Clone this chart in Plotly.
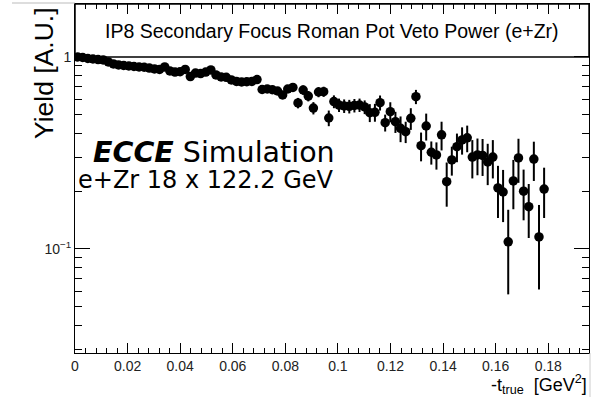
import plotly.graph_objects as go

# Histogram binning of -t (GeV^2): 100 bins over [0, 0.195]
bin_width = 0.00195

# Normalised yield per bin and its statistical uncertainty
yield_vals = [
    1.000, 0.994, 0.982, 0.976, 0.970, 0.965, 0.942, 0.920, 0.909, 0.903,
    0.898, 0.892, 0.887, 0.884, 0.876, 0.866, 0.861, 0.887, 0.846, 0.835,
    0.838, 0.861, 0.791, 0.825, 0.820, 0.835, 0.856, 0.806, 0.787, 0.784,
    0.759, 0.746, 0.741, 0.743, 0.746, 0.763, 0.677, 0.681, 0.675, 0.665,
    0.634, 0.681, 0.694, 0.576, 0.673, 0.626, 0.542, 0.657, 0.660, 0.481,
    0.586, 0.562, 0.556, 0.553, 0.559, 0.562, 0.549, 0.513, 0.515, 0.578,
    0.455, 0.519, 0.460, 0.425, 0.408, 0.479, 0.621, 0.345, 0.437, 0.319,
    0.309, 0.393, 0.224, 0.291, 0.341, 0.370, 0.379, 0.301, 0.309, 0.307,
    0.284, 0.301, 0.208, 0.198, 0.109, 0.226, 0.298, 0.200, 0.166, 0.294,
    0.1155, 0.205,
]
yield_errs = [
    0.010, 0.010, 0.010, 0.010, 0.010, 0.010, 0.011, 0.011, 0.012, 0.012,
    0.013, 0.013, 0.014, 0.014, 0.015, 0.015, 0.016, 0.016, 0.017, 0.017,
    0.018, 0.018, 0.019, 0.019, 0.020, 0.020, 0.021, 0.021, 0.022, 0.022,
    0.025, 0.025, 0.025, 0.025, 0.025, 0.025, 0.030, 0.030, 0.030, 0.030,
    0.030, 0.030, 0.030, 0.036, 0.038, 0.039, 0.040, 0.040, 0.040, 0.045,
    0.045, 0.045, 0.045, 0.045, 0.045, 0.045, 0.045, 0.055, 0.055, 0.052,
    0.046, 0.062, 0.058, 0.065, 0.052, 0.062, 0.053, 0.059, 0.070, 0.044,
    0.050, 0.067, 0.058, 0.050, 0.058, 0.060, 0.060, 0.068, 0.067, 0.067,
    0.069, 0.068, 0.063, 0.060, 0.051, 0.065, 0.077, 0.059, 0.052, 0.068,
    0.054, 0.060,
]
t_centers = [round((k + 0.5) * bin_width, 6) for k in range(len(yield_vals))]

x_ticks = [0, 0.02, 0.04, 0.06, 0.08, 0.1, 0.12, 0.14, 0.16, 0.18]
x_ticklabels = ["0", "0.02", "0.04", "0.06", "0.08", "0.1", "0.12", "0.14", "0.16", "0.18"]
x_minor = [round(0.004 * k, 3) for k in range(49)]
y_ticks = [0.1, 1]
y_ticklabels = ["10<sup>\u22121</sup>", "1"]
y_minor = [0.03, 0.04, 0.05, 0.06, 0.07, 0.08, 0.09, 0.2, 0.3, 0.4, 0.5, 0.6, 0.7, 0.8, 0.9]

Y_LOG_RANGE = [-1.542, 0.276]
box_bottom = (0 - Y_LOG_RANGE[0]) / (Y_LOG_RANGE[1] - Y_LOG_RANGE[0])

fig = go.Figure()
fig.add_trace(go.Scatter(
    x=t_centers, y=yield_vals, mode="markers",
    marker=dict(color="black", size=9.5, line=dict(width=0)),
    error_y=dict(type="data", array=yield_errs, visible=True,
                 color="black", thickness=2, width=0),
    hoverinfo="x+y",
))

base_font = "Liberation Sans, Arial, Helvetica, sans-serif"

fig.update_layout(
    width=605, height=400,
    margin=dict(l=75, r=16, t=4, b=47),
    plot_bgcolor="white", paper_bgcolor="white",
    showlegend=False,
    font=dict(family=base_font, size=14, color="black"),
    xaxis=dict(
        range=[0, 0.1955], tickmode="array", tickvals=x_ticks, ticktext=x_ticklabels,
        ticks="inside", ticklen=10, tickwidth=1, tickcolor="black",
        showline=True, linecolor="black", linewidth=1, mirror="ticks",
        showgrid=False, zeroline=False,
        tickfont=dict(size=14, color="#222"),
        minor=dict(tickmode="array", tickvals=x_minor, ticks="inside",
                   ticklen=5, tickwidth=1, tickcolor="black", showgrid=False),
    ),
    yaxis=dict(
        type="log", range=Y_LOG_RANGE, tickmode="array", tickvals=y_ticks,
        ticktext=y_ticklabels,
        ticks="inside", ticklen=15, tickwidth=1, tickcolor="black",
        showline=True, linecolor="black", linewidth=1, mirror="ticks",
        showgrid=False, zeroline=False,
        tickfont=dict(size=14, color="#222"),
        minor=dict(tickmode="array", tickvals=y_minor, ticks="inside",
                   ticklen=7, tickwidth=1, tickcolor="black", showgrid=False),
    ),
    shapes=[
        # title pave across the top of the frame
        dict(type="rect", xref="paper", yref="paper", x0=0, x1=1,
             y0=box_bottom, y1=1, fillcolor="white",
             line=dict(color="black", width=1.5), layer="below"),
        # canvas border remnants
        dict(type="line", xref="paper", yref="paper", x0=-63 / 514, x1=0,
             y0=1 + 1 / 349, y1=1 + 1 / 349, line=dict(color="#bbbbbb", width=1)),
        dict(type="line", xref="paper", yref="paper", x0=1 + 1 / 514, x1=1 + 1 / 514,
             y0=-44 / 349, y1=0, line=dict(color="#cccccc", width=1)),
    ],
    annotations=[
        dict(text="IP8 Secondary Focus Roman Pot Veto Power (e+Zr)",
             xref="paper", yref="paper", x=0.5, y=(353 - 31.5) / 349,
             xanchor="center", yanchor="middle", showarrow=False,
             font=dict(family=base_font, size=19.5, color="black")),
        dict(text="<b><i>ECCE</i></b> Simulation",
             xref="paper", yref="paper", x=(91 - 75) / 514, y=(353 - 152) / 349,
             xanchor="left", yanchor="middle", showarrow=False,
             font=dict(family="DejaVu Sans", size=28.5, color="black")),
        dict(text="e+Zr 18 x 122.2 GeV",
             xref="paper", yref="paper", x=(76 - 75) / 514, y=(353 - 180) / 349,
             xanchor="left", yanchor="middle", showarrow=False,
             font=dict(family="DejaVu Sans", size=24, color="black")),
        dict(text="Yield [A.U.]", textangle=-90,
             xref="paper", yref="paper", x=-31 / 514, y=1 - 1 / 349,
             xanchor="center", yanchor="top", showarrow=False,
             font=dict(family=base_font, size=26.5, color="black")),
        dict(text="-t<sub>true</sub>&nbsp; [GeV<sup>2</sup>]",
             xref="paper", yref="paper", x=1, y=-(384 - 353) / 349,
             xanchor="right", yanchor="middle", showarrow=False,
             font=dict(family=base_font, size=18, color="black")),
    ],
)

fig.write_html("out.html")
